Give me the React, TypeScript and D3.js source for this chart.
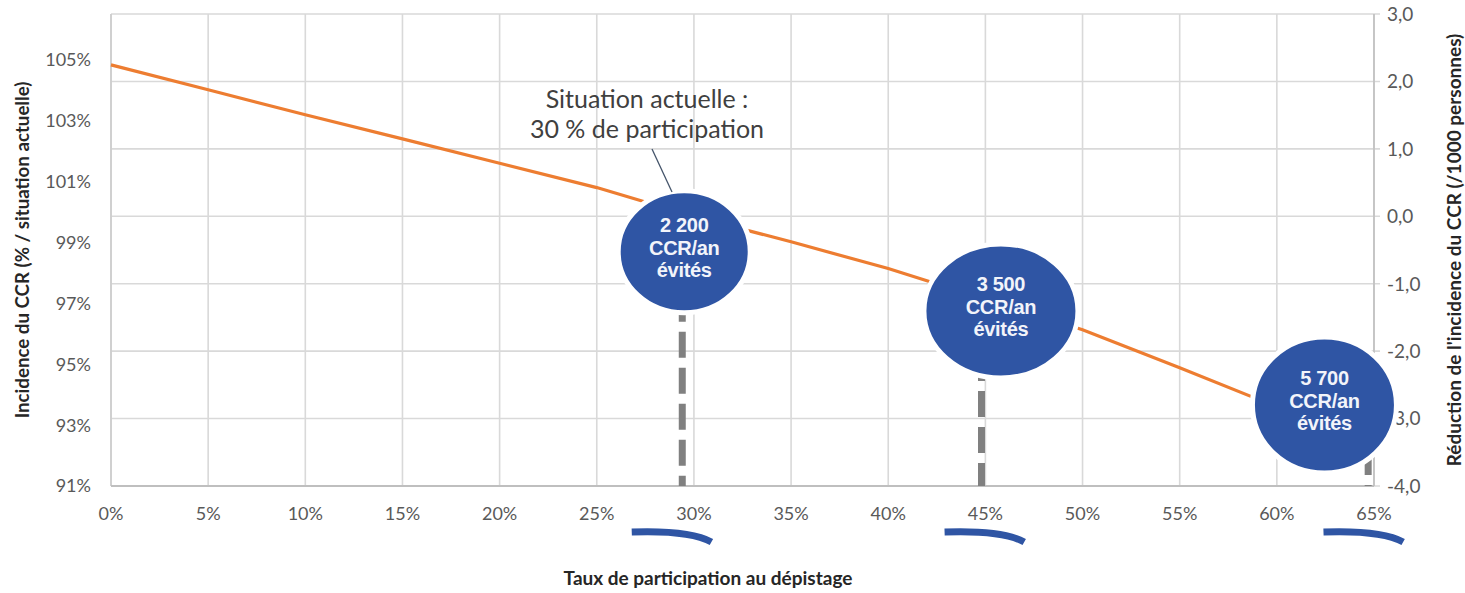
import React from "react";
import * as d3 from "d3";

const participation = [0, 5, 10, 15, 20, 25, 30, 35, 40, 45, 50, 55, 60];
const incidence = [104.83, 104.01, 103.19, 102.4, 101.6, 100.8, 99.85, 99.02, 98.14, 97.13, 96.13, 94.88, 93.6];
const xTicks = [0, 5, 10, 15, 20, 25, 30, 35, 40, 45, 50, 55, 60, 65];
const leftTicks = [91, 93, 95, 97, 99, 101, 103, 105];
const rightTicks = [-4, -3, -2, -1, 0, 1, 2, 3];
const rightTickLabels = ["-4,0", "-3,0", "-2,0", "-1,0", "0,0", "1,0", "2,0", "3,0"];
const bubbleRates = [29.5, 45.8, 62.45];
const bubbleY = [98.69, 96.75, 93.66];
const bubbleLines = [
  ["2 200", "CCR/an", "évités"],
  ["3 500", "CCR/an", "évités"],
  ["5 700", "CCR/an", "évités"],
];
const dropRates = [29.4, 44.8, 64.7];
const braceRates = [26.8, 42.9, 62.4];

const W = 1465;
const H = 593;
const M = { left: 111, right: 1374, top: 14, bottom: 486 };
const bubbleR = [
  [66, 61],
  [77, 67],
  [72, 68],
];
const dashes = ["26 10", "26 10", "26 10"];

const x = d3.scaleLinear().domain([0, 65]).range([M.left, M.right]);
const yL = d3.scaleLinear().domain([91, 106.5]).range([M.bottom, M.top]);
const yR = d3.scaleLinear().domain([-4, 3]).range([M.bottom, M.top]);

const font = "Lato, 'Open Sans', sans-serif";
const tickColor = "#595959";

export default function App() {
  const line = d3
    .line<number>()
    .x((_, i) => x(participation[i]))
    .y((d) => yL(d));

  return (
    <svg width={W} height={H} style={{ position: "absolute", left: 0, top: 0, background: "#fff" }}>
      {/* vertical grid */}
      {xTicks.map((t) => (
        <line key={"vx" + t} x1={x(t)} x2={x(t)} y1={M.top} y2={M.bottom} stroke="#d9d9d9" strokeWidth={1.6} />
      ))}
      {/* horizontal grid from right axis */}
      {rightTicks.map((t) => (
        <line key={"hg" + t} x1={M.left} x2={M.right + 6} y1={yR(t)} y2={yR(t)} stroke="#d9d9d9" strokeWidth={1.6} />
      ))}
      <line x1={M.left} x2={M.left} y1={M.top} y2={M.bottom} stroke="#cfcfcf" strokeWidth={1.8} />
      <line x1={M.right} x2={M.right} y1={M.top} y2={M.bottom} stroke="#bfbfbf" strokeWidth={1.6} />
      <line x1={M.left} x2={M.right} y1={M.bottom} y2={M.bottom} stroke="#bfbfbf" strokeWidth={2} />

      {/* left tick labels */}
      {leftTicks.map((t) => (
        <text key={"lt" + t} x={91} y={yL(t)} dy="0.36em" textAnchor="end" fontFamily={font} fontSize={18} fill={tickColor}>
          {t}%
        </text>
      ))}
      {/* right tick labels */}
      {rightTicks.map((t, i) => (
        <text key={"rt" + t} x={1387} y={yR(t)} dy="0.36em" textAnchor="start" fontFamily={font} fontSize={19} fill={tickColor}>
          {rightTickLabels[i]}
        </text>
      ))}
      {/* x tick labels */}
      {xTicks.map((t) => (
        <text key={"xt" + t} x={x(t)} y={514} dy="0.36em" textAnchor="middle" fontFamily={font} fontSize={18} fill={tickColor}>
          {t}%
        </text>
      ))}

      {/* orange line */}
      <path d={line(incidence) || ""} fill="none" stroke="#ED7D31" strokeWidth={3.2} />

      {/* dashed drops */}
      {dropRates.map((r, i) => (
        <line
          key={"dr" + i}
          x1={x(r)}
          x2={x(r)}
          y1={yL(bubbleY[i])}
          y2={M.bottom}
          stroke="#808080"
          strokeWidth={7}
          strokeDasharray={dashes[i]}
          strokeDashoffset={-8}
        />
      ))}

      {/* bubbles */}
      {bubbleRates.map((r, i) => {
        const cx = x(r);
        const cy = yL(bubbleY[i]);
        return (
          <g key={"b" + i}>
            <ellipse cx={cx} cy={cy} rx={bubbleR[i][0]} ry={bubbleR[i][1]} fill="#2F55A4" stroke="#fff" strokeWidth={5} />
            {bubbleLines[i].map((s, j) => (
              <text
                key={j}
                x={cx}
                y={cy + (j - 1) * 22.5 - 4}
                dy="0.35em"
                textAnchor="middle"
                fontFamily="'Liberation Sans', Arial, sans-serif"
                fontWeight="bold"
                fontSize={20}
                letterSpacing={-0.3}
                fill="#F2F4FA"
              >
                {s}
              </text>
            ))}
          </g>
        );
      })}

      {/* annotation */}
      <line x1={652} x2={672} y1={149} y2={192} stroke="#44546A" strokeWidth={1.3} />
      <text x={647} y={99} dy="0.35em" textAnchor="middle" fontFamily={font} fontSize={25} fill="#404040">
        Situation actuelle :
      </text>
      <text x={647} y={129} dy="0.35em" textAnchor="middle" fontFamily={font} fontSize={25} fill="#404040">
        30 % de participation
      </text>

      {/* brace-like marks */}
      {braceRates.map((r, i) => {
        const x0 = x(r);
        const x1 = x(r + 4.1);
        return (
          <path
            key={"br" + i}
            d={`M${x0},${532} Q${x0 + 58},${530} ${x1},${542}`}
            fill="none"
            stroke="#2F55A4"
            strokeWidth={7}
          />
        );
      })}

      {/* axis titles */}
      <text
        transform={`translate(22,${250}) rotate(-90)`}
        dy="0.35em"
        textAnchor="middle"
        fontFamily={font}
        fontWeight="bold"
        fontSize={18.7}
        fill="#262626"
      >
        Incidence du CCR (% / situation actuelle)
      </text>
      <text
        transform={`translate(1454,${250}) rotate(-90)`}
        dy="0.35em"
        textAnchor="middle"
        fontFamily={font}
        fontWeight="bold"
        fontSize={19}
        fill="#262626"
      >
        Réduction de l'incidence du CCR (/1000 personnes)
      </text>
      <text x={708} y={578} dy="0.35em" textAnchor="middle" fontFamily={font} fontWeight="bold" fontSize={19} fill="#262626">
        Taux de participation au dépistage
      </text>
    </svg>
  );
}
